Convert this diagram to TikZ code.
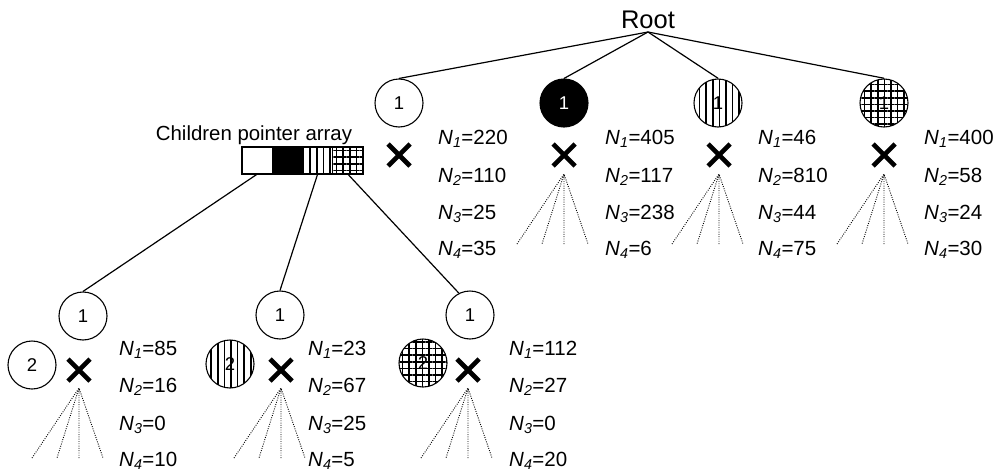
\documentclass[tikz,border=0pt]{standalone}
\usepackage{fontspec}
\setmainfont{Liberation Sans}
\usetikzlibrary{patterns.meta}
\tikzset{
  circ/.style={circle, draw, line width=1.1pt, minimum size=48pt, inner sep=0pt, font=\fontsize{18.5}{20}\selectfont},
  vstripe/.style={pattern={Lines[angle=90,distance=6.6pt,line width=1.5pt]}},
  gridfill/.style={pattern={Hatch[angle=0,distance=6.6pt,line width=1.5pt]}},
  lab/.style={anchor=base west, inner sep=0pt, font=\fontsize{20.5}{22}\selectfont},
  conn/.style={line width=1.2pt},
  fanline/.style={line width=0.9pt, dash pattern=on 0.9pt off 1.4pt},
  cell/.style={rectangle, minimum width=30.25pt, minimum height=27pt, inner sep=0pt},
  xmark/.pic={\draw[line width=4.6pt] (-11,-11) -- (11,11) (-11,11) -- (11,-11);},
  fan/.pic={\draw[fanline] (-47,88) -- (0,18) -- (-22,88) (0,88) -- (0,18) -- (24,88);},
}
\newcommand{\nlab}[2]{\textit{N}\textsubscript{\textit{#1}}=#2}
\begin{document}
\begin{tikzpicture}[x=1pt,y=-1pt]
\useasboundingbox (0,0) rectangle (994,474);

% root
\node[anchor=base, inner sep=0pt, font=\fontsize{25.5}{27}\selectfont] (root) at (648,28) {Root};
\coordinate (rj) at (648,32);

% top level circles
\node[circ] (c1) at (399,103) {1};
\node[circ, fill=black, text=white] (c2) at (564,103) {1};
\node[circ, vstripe] (c3) at (718,103) {1};
\node[circ, gridfill] (c4) at (884,103) {1};
\foreach \c in {c1,c2,c3,c4} \draw[conn] (rj) -- (\c.north);

% X marks and fans (top)
\pic at (399,155) {xmark};
\pic at (564,155) {xmark};
\pic at (719,155) {xmark};
\pic at (884,155) {xmark};
\pic at (564,156) {fan};
\pic at (719,156) {fan};
\pic at (884,156) {fan};

% top labels
\node[lab] (l11) at (438,144) {\nlab{1}{220}};
\node[lab] (l12) at (438,182) {\nlab{2}{110}};
\node[lab] (l13) at (438,219) {\nlab{3}{25}};
\node[lab] (l14) at (438,255) {\nlab{4}{35}};
\node[lab] (l21) at (605,144) {\nlab{1}{405}};
\node[lab] (l22) at (605,182) {\nlab{2}{117}};
\node[lab] (l23) at (605,219) {\nlab{3}{238}};
\node[lab] (l24) at (605,255) {\nlab{4}{6}};
\node[lab] (l31) at (758,144) {\nlab{1}{46}};
\node[lab] (l32) at (758,182) {\nlab{2}{810}};
\node[lab] (l33) at (758,219) {\nlab{3}{44}};
\node[lab] (l34) at (758,255) {\nlab{4}{75}};
\node[lab] (l41) at (924,144) {\nlab{1}{400}};
\node[lab] (l42) at (924,182) {\nlab{2}{58}};
\node[lab] (l43) at (924,219) {\nlab{3}{24}};
\node[lab] (l44) at (924,255) {\nlab{4}{30}};

% children pointer array
\node[anchor=base, inner sep=0pt, font=\fontsize{20.4}{22}\selectfont] (cpa) at (254,140) {Children pointer array};
\node[cell, fill=white] (a1) at (257.1,160.5) {};
\node[cell, fill=black] (a2) at (287.4,160.5) {};
\node[cell, vstripe] (a3) at (317.6,160.5) {};
\node[cell, gridfill] (a4) at (347.9,160.5) {};
\draw[line width=1.5pt] (a1.north west) rectangle (a4.south east);
\draw[line width=0.8pt] (a3.north west) -- (a3.south west) (a4.north west) -- (a4.south west);

% bottom level
\node[circ] (ch1) at (83,316) {1};
\node[circ] (ch2) at (280,315) {1};
\node[circ] (ch3) at (470,315) {1};
\draw[conn] (a1.south) -- (ch1.north);
\draw[conn] (a3.south) -- (ch2.north);
\draw[conn] (a4.south) -- (ch3.117);

\node[circ] (d1) at (32,365) {2};
\node[circ, vstripe] (d2) at (230,364) {2};
\node[circ, gridfill] (d3) at (423,363) {2};

\pic at (79,370) {xmark};
\pic at (281,370) {xmark};
\pic at (468,370) {xmark};
\pic at (79,370) {fan};
\pic at (281,370) {fan};
\pic at (468,370) {fan};

\node[lab] (m11) at (119,355) {\nlab{1}{85}};
\node[lab] (m12) at (119,392) {\nlab{2}{16}};
\node[lab] (m13) at (119,430) {\nlab{3}{0}};
\node[lab] (m14) at (119,466) {\nlab{4}{10}};
\node[lab] (m21) at (308,355) {\nlab{1}{23}};
\node[lab] (m22) at (308,392) {\nlab{2}{67}};
\node[lab] (m23) at (308,430) {\nlab{3}{25}};
\node[lab] (m24) at (308,466) {\nlab{4}{5}};
\node[lab] (m31) at (509,355) {\nlab{1}{112}};
\node[lab] (m32) at (509,392) {\nlab{2}{27}};
\node[lab] (m33) at (509,430) {\nlab{3}{0}};
\node[lab] (m34) at (509,466) {\nlab{4}{20}};
\end{tikzpicture}
\end{document}
